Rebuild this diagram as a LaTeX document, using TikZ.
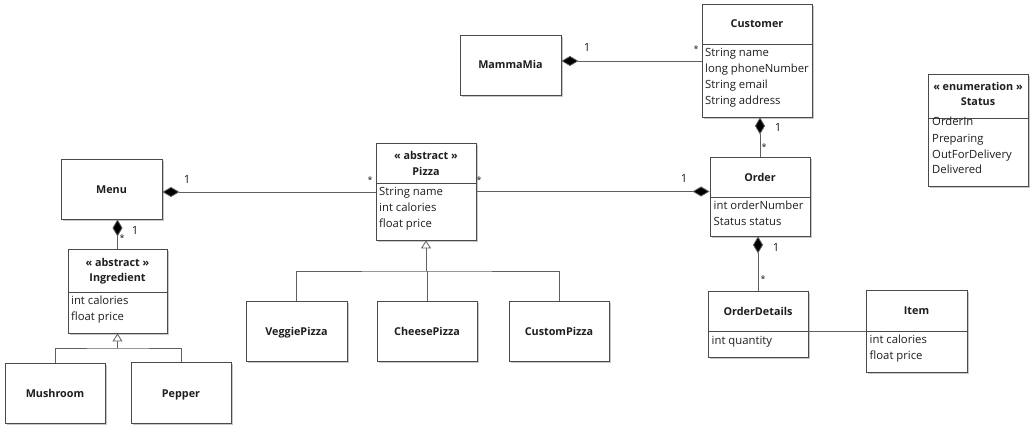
\documentclass[tikz,border=0pt]{standalone}
\usepackage{fontspec}
\setmainfont{Open Sans}
\usetikzlibrary{arrows.meta,shadows}
\definecolor{edgec}{HTML}{4A4A4A}
\definecolor{linec}{HTML}{606060}
\definecolor{txt}{HTML}{1E1E1E}
\newcommand\fnt{\fontsize{10.8}{13}\selectfont}
\newcommand\afnt{\fontsize{11.3}{13}\selectfont}
\tikzset{
  cls/.style={draw=edgec, line width=0.9pt, fill=white, inner sep=0pt,
    drop shadow={shadow xshift=1.6pt, shadow yshift=-1.6pt, opacity=0.22, fill=black}},
  divl/.style={draw=edgec, line width=0.9pt},
  title/.style={font=\fnt\bfseries, anchor=base, text=txt, inner sep=0pt},
  attr/.style={font=\afnt, anchor=base west, text=txt, inner sep=0pt},
  mult/.style={font=\afnt, anchor=base, text=txt, inner sep=0pt},
  star/.style={font=\fontsize{9}{11}\selectfont, anchor=base, text=txt, inner sep=0pt},
  conn/.style={draw=linec, line width=0.8pt},
  comp/.style={conn, {Diamond[length=17pt,width=10pt,fill=black]}-},
  gen/.style={conn, {Triangle[open,length=8pt,width=10pt,fill=white]}-},
}
\newcommand\umlbox[5]{%
  \node[cls, minimum width={#4pt-#2pt}, minimum height={#5pt-#3pt}] (#1) at ({(#2+#4)/2},{(#3+#5)/2}) {};}
\begin{document}
\begin{tikzpicture}[x=1pt,y=-1pt]
\useasboundingbox (0,0) rectangle (1032,427);
% boxes
\umlbox{mamma}{460}{35}{561}{95}
\umlbox{cust}{702}{4}{812}{117}
\umlbox{status}{928}{74}{1028}{186}
\umlbox{menu}{61}{159}{162}{219}
\umlbox{pizza}{376}{143}{476}{240}
\umlbox{order}{710}{157}{810}{236}
\umlbox{ingred}{68}{249}{167}{333}
\umlbox{mush}{5}{363}{105}{423}
\umlbox{pepper}{131}{362}{231}{423}
\umlbox{veggie}{246}{301}{347}{361}
\umlbox{cheese}{377}{301}{477}{361}
\umlbox{custom}{509}{301}{609}{361}
\umlbox{odet}{708}{291}{808}{357}
\umlbox{item}{866}{290}{967}{372}
% dividers
\draw[divl] (cust.west |- 0,44) -- (cust.east |- 0,44);
\draw[divl] (status.west |- 0,118) -- (status.east |- 0,118);
\draw[divl] (pizza.west |- 0,183) -- (pizza.east |- 0,183);
\draw[divl] (order.west |- 0,197) -- (order.east |- 0,197);
\draw[divl] (ingred.west |- 0,292) -- (ingred.east |- 0,292);
\draw[divl] (odet.west |- 0,331) -- (odet.east |- 0,331);
\draw[divl] (item.west |- 0,331) -- (item.east |- 0,331);
% titles
\node[title] (tmamma) at (510.5,69) {MammaMia};
\node[title] (tcust) at (757,28) {Customer};
\node[title] (sstatus) at (978,91) {« enumeration »};
\node[title] (tstatus) at (978,106) {Status};
\node[title] (tmenu) at (111.5,193.5) {Menu};
\node[title] (spizza) at (426,160) {« abstract »};
\node[title] (tpizza) at (426,176) {Pizza};
\node[title] (torder) at (760,182) {Order};
\node[title] (singred) at (117.5,267) {« abstract »};
\node[title] (tingred) at (117.5,282) {Ingredient};
\node[title] (tmush) at (55,397.5) {Mushroom};
\node[title] (tpepper) at (181,397) {Pepper};
\node[title] (tveggie) at (296.5,335.5) {VeggiePizza};
\node[title] (tcheese) at (427,335.5) {CheesePizza};
\node[title] (tcustom) at (559,335.5) {CustomPizza};
\node[title] (todet) at (758,315.5) {OrderDetails};
\node[title] (titem) at (916.5,314.5) {Item};
% attributes
\node[attr] (ac1) at (705,57) {String name};
\node[attr] (ac2) at (705,73) {long phoneNumber};
\node[attr] (ac3) at (705,89) {String email};
\node[attr] (ac4) at (705,105) {String address};
\node[attr] (as1) at (932,126) {OrderIn};
\node[attr] (as2) at (932,142.5) {Preparing};
\node[attr] (as3) at (932,158.5) {OutForDelivery};
\node[attr] (as4) at (932,174) {Delivered};
\node[attr] (ap1) at (379,196) {String name};
\node[attr] (ap2) at (379,212) {int calories};
\node[attr] (ap3) at (379,228) {float price};
\node[attr] (ao1) at (713.5,210) {int orderNumber};
\node[attr] (ao2) at (713.5,226) {Status status};
\node[attr] (ai1) at (71,304) {int calories};
\node[attr] (ai2) at (71,320) {float price};
\node[attr] (ad1) at (711.5,344) {int quantity};
\node[attr] (at1) at (869.5,343) {int calories};
\node[attr] (at2) at (869.5,359) {float price};
% compositions
\draw[comp] ([yshift=4pt]mamma.east) -- ([yshift=4pt]mamma.east -| cust.west);
\draw[comp] (order.north |- cust.south) -- (order.north);
\draw[comp] ([yshift=-3pt]menu.east) -- ([yshift=-3pt]menu.east -| pizza.west);
\draw[comp] (pizza.east -| order.west) -- (pizza.east);
\draw[comp] (ingred.north |- menu.south) -- (ingred.north);
\draw[comp] (odet.north |- order.south) -- (odet.north);
% association
\draw[conn] ([yshift=-7pt]odet.east) -- ([yshift=-7pt]odet.east -| item.west);
% generalizations
\coordinate (ij) at (ingred.south |- 0,348);
\draw[gen] (ingred.south) -- (ij);
\draw[conn] (mush.north) |- (ij) -| (pepper.north);
\coordinate (pj) at (pizza.south |- 0,271);
\draw[gen] (pizza.south) -- (pj);
\draw[conn] (veggie.north) |- (pj) -| (custom.north);
\draw[conn] (cheese.north) -- (cheese.north |- pj);
% multiplicities
\node[mult] (m1) at (587,52) {1};
\node[star] (m2) at (696,53) {*};
\node[mult] (m3) at (778,132) {1};
\node[star] (m4) at (764,151) {*};
\node[mult] (m5) at (187,184) {1};
\node[star] (m6) at (370,184) {*};
\node[star] (m7) at (479,184) {*};
\node[mult] (m8) at (684,183) {1};
\node[mult] (m9) at (135,235) {1};
\node[star] (m10) at (122,242) {*};
\node[mult] (m11) at (776,252) {1};
\node[star] (m12) at (763,283) {*};
\end{tikzpicture}
\end{document}
